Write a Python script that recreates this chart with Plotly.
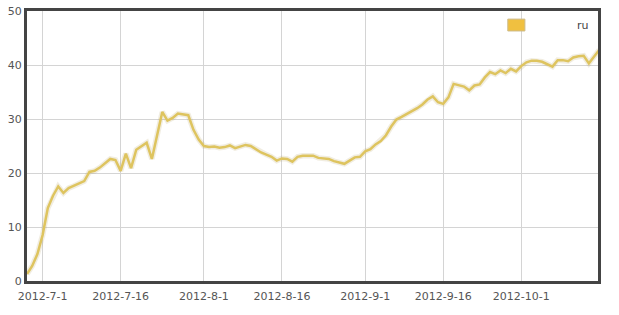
import plotly.graph_objects as go
import pandas as pd

start_date = "2012-06-28"
ru_values = [
    1.3, 2.8, 5.0, 8.5, 13.5, 15.8, 17.5, 16.3, 17.2, 17.6,
    18.0, 18.5, 20.2, 20.4, 21.0, 21.8, 22.6, 22.4, 20.4, 23.6,
    20.9, 24.3, 25.0, 25.6, 22.6, 27.0, 31.3, 29.7, 30.2, 31.0,
    30.9, 30.7, 28.0, 26.2, 25.0, 24.8, 24.9, 24.7, 24.8, 25.1,
    24.6, 24.9, 25.2, 25.0, 24.4, 23.8, 23.4, 23.0, 22.3, 22.7,
    22.6, 22.1, 23.0, 23.2, 23.2, 23.2, 22.8, 22.7, 22.6, 22.2,
    22.0, 21.7, 22.3, 22.9, 23.0, 24.0, 24.4, 25.3, 25.9, 27.0,
    28.6, 29.9, 30.4, 30.9, 31.4, 32.0, 32.7, 33.6, 34.2, 33.1,
    32.8, 34.0, 36.5, 36.2, 36.0, 35.3, 36.2, 36.4, 37.7, 38.7,
    38.3, 39.0, 38.5, 39.3, 38.8, 39.8, 40.5, 40.8, 40.8, 40.6,
    40.2, 39.7, 40.9, 40.9, 40.7, 41.4, 41.6, 41.7, 40.3, 41.5,
    42.8,
]
dates = pd.date_range(start_date, periods=len(ru_values), freq="D")

tick_dates = ["2012-07-01", "2012-07-16", "2012-08-01", "2012-08-16",
              "2012-09-01", "2012-09-16", "2012-10-01"]
tick_labels = ["2012-7-1", "2012-7-16", "2012-8-1", "2012-8-16",
               "2012-9-1", "2012-9-16", "2012-10-1"]
y_ticks = [0, 10, 20, 30, 40, 50]
series_name = "ru"

fig = go.Figure()
# soft shadow under the line
fig.add_trace(go.Scatter(
    x=dates, y=ru_values, mode="lines", showlegend=False, hoverinfo="skip",
    line=dict(color="rgba(175,155,90,0.18)", width=5.5),
))
fig.add_trace(go.Scatter(
    x=dates, y=ru_values, mode="lines", name=series_name, showlegend=False,
    line=dict(color="#dec45f", width=2.5),
))

axis_font = dict(family="DejaVu Sans, Verdana, sans-serif", size=11, color="#555")

fig.update_layout(
    width=619, height=315,
    margin=dict(l=27, r=21, t=11, b=34, autoexpand=False),
    paper_bgcolor="white", plot_bgcolor="white",
    showlegend=False,
    font=axis_font,
    xaxis=dict(
        range=["2012-06-28", "2012-10-15 18:00"],
        tickvals=tick_dates, ticktext=tick_labels,
        showgrid=True, gridcolor="#d4d4d4", gridwidth=1,
        showline=True, linecolor="#444", linewidth=3, mirror=True,
        ticks="", zeroline=False, tickfont=axis_font,
        automargin=False, ticklabelstandoff=3,
    ),
    yaxis=dict(
        range=[0, 50], tickvals=y_ticks,
        showgrid=True, gridcolor="#d4d4d4", gridwidth=1,
        showline=True, linecolor="#444", linewidth=3, mirror=True,
        ticks="", zeroline=False, tickfont=axis_font,
        automargin=False,
    ),
    shapes=[dict(
        type="rect", xref="paper", yref="paper",
        x0=0.842, x1=0.872, y0=0.926, y1=0.970,
        fillcolor="#f0c040", line=dict(color="#cdbb8a", width=1),
    )],
    annotations=[dict(
        text=series_name, xref="paper", yref="paper", x=0.988, y=0.948,
        xanchor="right", yanchor="middle", showarrow=False,
        font=dict(family="DejaVu Sans, Verdana, sans-serif", size=11, color="#444"),
    )],
)

fig.write_html("out.html")
